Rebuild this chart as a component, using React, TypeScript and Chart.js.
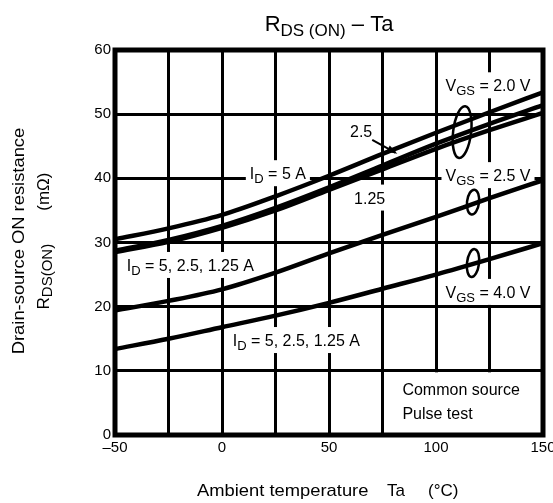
import React, { useEffect, useRef } from "react";
import { Chart, registerables } from "chart.js";

Chart.register(...registerables);

const temps = [-50, -25, 0, 25, 50, 75, 100, 125, 150];
const rVgs20Id5 = [30.5, 32.2, 34.3, 37.2, 40.4, 43.8, 47.1, 50.3, 53.4];
const rVgs20Id25 = [28.7, 30.4, 32.6, 35.4, 38.6, 42.0, 45.4, 48.5, 51.4];
const rVgs20Id125 = [28.5, 30.1, 32.3, 35.0, 38.2, 41.4, 44.6, 47.5, 50.2];
const rVgs25 = [19.4, 20.9, 22.7, 25.3, 28.3, 31.2, 34.0, 36.9, 39.7];
const rVgs40 = [13.4, 15.0, 16.8, 18.6, 20.6, 22.8, 25.0, 27.4, 29.9];

const xTicks = [-50, -25, 0, 25, 50, 75, 100, 125, 150];
const xTickLabels = ["–50", "", "0", "", "50", "", "100", "", "150"];
const yTicks = [0, 10, 20, 30, 40, 50, 60];

const FONT = '"Liberation Sans", Arial, sans-serif';

type Part = { t: string; sub?: boolean };

function richWidth(ctx: CanvasRenderingContext2D, parts: Part[], size: number, subSize: number) {
  let w = 0;
  for (const p of parts) {
    ctx.font = `${p.sub ? subSize : size}px ${FONT}`;
    w += ctx.measureText(p.t).width;
  }
  return w;
}

function drawRich(
  ctx: CanvasRenderingContext2D,
  parts: Part[],
  x: number,
  baseline: number,
  align: "left" | "center",
  size = 16,
  subSize = 13,
  subShift = 4
) {
  const w = richWidth(ctx, parts, size, subSize);
  let cx = align === "center" ? x - w / 2 : x;
  ctx.textAlign = "left";
  ctx.textBaseline = "alphabetic";
  ctx.fillStyle = "#000";
  for (const p of parts) {
    ctx.font = `${p.sub ? subSize : size}px ${FONT}`;
    ctx.fillText(p.t, cx, baseline + (p.sub ? subShift : 0));
    cx += ctx.measureText(p.t).width;
  }
  return w;
}

type Label = { parts: Part[]; x: number; y: number; align: "left" | "center"; box: boolean };

const labels: Label[] = [
  { parts: [{ t: "V" }, { t: "GS", sub: true }, { t: " = 2.0 V" }], x: 124.3, y: 54.5, align: "center", box: true },
  { parts: [{ t: "2.5" }], x: 65, y: 47.3, align: "center", box: true },
  { parts: [{ t: "I" }, { t: "D", sub: true }, { t: " = 5 A" }], x: 13.0, y: 40.8, align: "left", box: true },
  { parts: [{ t: "1.25" }], x: 69, y: 37.0, align: "center", box: true },
  { parts: [{ t: "V" }, { t: "GS", sub: true }, { t: " = 2.5 V" }], x: 124.3, y: 40.5, align: "center", box: true },
  { parts: [{ t: "I" }, { t: "D", sub: true }, { t: " = 5, 2.5, 1.25 A" }], x: -44.5, y: 26.5, align: "left", box: true },
  { parts: [{ t: "V" }, { t: "GS", sub: true }, { t: " = 4.0 V" }], x: 124.3, y: 22.3, align: "center", box: true },
  { parts: [{ t: "I" }, { t: "D", sub: true }, { t: " = 5, 2.5, 1.25 A" }], x: 5.0, y: 14.8, align: "left", box: true },
  { parts: [{ t: "Common source" }], x: 84.3, y: 7.2, align: "left", box: false },
  { parts: [{ t: "Pulse test" }], x: 84.3, y: 3.4, align: "left", box: false },
];

const loops = [
  { x: 112.2, y: 47.2, rx: 9, ry: 26 },
  { x: 117.3, y: 36.3, rx: 6, ry: 12.5 },
  { x: 117.3, y: 26.8, rx: 6, ry: 14 },
];

const annotPlugin = {
  id: "annot",
  beforeDatasetsDraw(chart: any) {
    const { ctx, scales, chartArea } = chart;
    const xs = scales.x;
    const ys = scales.y;
    ctx.save();
    ctx.fillStyle = "#fff";
    ctx.fillRect(
      xs.getPixelForValue(75) + 1.5,
      ys.getPixelForValue(10) + 1.5,
      chartArea.right - xs.getPixelForValue(75) - 1.5,
      chartArea.bottom - ys.getPixelForValue(10) - 1.5
    );
    for (const l of labels) {
      if (!l.box) continue;
      const w = richWidth(ctx, l.parts, 16, 13);
      const px = xs.getPixelForValue(l.x);
      const py = ys.getPixelForValue(l.y);
      const x0 = l.align === "center" ? px - w / 2 : px;
      ctx.fillRect(x0 - 4, py - 13, w + 8, 26);
    }
    ctx.restore();
  },
  afterDatasetsDraw(chart: any) {
    const { ctx, scales, chartArea } = chart;
    const xs = scales.x;
    const ys = scales.y;
    ctx.save();
    ctx.strokeStyle = "#000";
    ctx.lineWidth = 5;
    ctx.strokeRect(chartArea.left, chartArea.top, chartArea.right - chartArea.left, chartArea.bottom - chartArea.top);

    for (const l of labels) {
      const px = xs.getPixelForValue(l.x);
      const py = ys.getPixelForValue(l.y);
      drawRich(ctx, l.parts, px, py + 6, l.align, 16, 13, 4);
    }

    ctx.lineWidth = 2.5;
    for (const lp of loops) {
      ctx.beginPath();
      ctx.ellipse(xs.getPixelForValue(lp.x), ys.getPixelForValue(lp.y), lp.rx, lp.ry, 0.12, 0, Math.PI * 2);
      ctx.stroke();
    }

    const ax0 = xs.getPixelForValue(70.2), ay0 = ys.getPixelForValue(46.0);
    const ax1 = xs.getPixelForValue(81.0), ay1 = ys.getPixelForValue(44.0);
    ctx.lineWidth = 2;
    ctx.beginPath();
    ctx.moveTo(ax0, ay0);
    ctx.lineTo(ax1, ay1);
    ctx.stroke();
    const ang = Math.atan2(ay1 - ay0, ax1 - ax0);
    ctx.beginPath();
    ctx.moveTo(ax1 + 2, ay1 + 1);
    ctx.lineTo(ax1 - 9 * Math.cos(ang - 0.4), ay1 - 9 * Math.sin(ang - 0.4));
    ctx.lineTo(ax1 - 9 * Math.cos(ang + 0.4), ay1 - 9 * Math.sin(ang + 0.4));
    ctx.closePath();
    ctx.fillStyle = "#000";
    ctx.fill();

    // title
    drawRich(ctx, [{ t: "R" }, { t: "DS (ON)", sub: true }, { t: " – Ta" }], 329, 31, "center", 22, 17, 5);

    // x title
    ctx.fillStyle = "#000";
    ctx.font = `17px ${FONT}`;
    ctx.textBaseline = "middle";
    ctx.textAlign = "left";
    ctx.save();
    ctx.translate(197, 491);
    ctx.scale(1.08, 1);
    ctx.fillText("Ambient temperature", 0, 0);
    ctx.restore();
    ctx.fillText("Ta", 387, 491);
    ctx.fillText("(°C)", 428, 491);

    // y titles
    ctx.save();
    ctx.translate(19, 241);
    ctx.rotate(-Math.PI / 2);
    ctx.font = `17px ${FONT}`;
    ctx.textAlign = "center";
    ctx.textBaseline = "middle";
    ctx.scale(1.08, 1);
    ctx.fillText("Drain-source ON resistance", 0, 0);
    ctx.restore();

    ctx.save();
    ctx.translate(43, 241);
    ctx.rotate(-Math.PI / 2);
    drawRich(ctx, [{ t: "R" }, { t: "DS(ON)", sub: true }, { t: "       (mΩ)" }], 0, 6, "center", 17, 15, 3);
    ctx.restore();

    ctx.restore();
  },
};

export default function App() {
  const ref = useRef<HTMLCanvasElement | null>(null);
  useEffect(() => {
    if (!ref.current) return;
    const mk = (vals: number[]) => temps.map((t, i) => ({ x: t, y: vals[i] }));
    const ds = (vals: number[]) => ({
      data: mk(vals),
      borderColor: "#000",
      borderWidth: 4.5,
      pointRadius: 0,
      fill: false,
      cubicInterpolationMode: "monotone" as const,
    });
    const chart = new Chart(ref.current, {
      type: "line",
      data: {
        datasets: [ds(rVgs20Id5), ds(rVgs20Id25), ds(rVgs20Id125), ds(rVgs25), ds(rVgs40)],
      },
      options: {
        responsive: false,
        animation: false,
        devicePixelRatio: 1,
        layout: { padding: { top: 50, right: 10, left: 0, bottom: 0 } },
        plugins: { legend: { display: false }, tooltip: { enabled: false }, title: { display: false } },
        scales: {
          x: {
            type: "linear",
            min: -50,
            max: 150,
            afterBuildTicks: (s: any) => {
              s.ticks = xTicks.map((v) => ({ value: v }));
            },
            afterFit: (s: any) => {
              s.height = 68;
              s.paddingLeft = 0;
              s.paddingRight = 0;
            },
            ticks: {
              autoSkip: false,
              maxRotation: 0,
              padding: 4,
              color: "#000",
              font: { family: FONT, size: 15 },
              callback: (v: any) => xTickLabels[xTicks.indexOf(Number(v))] ?? "",
            },
            grid: { color: "#000", lineWidth: 3, drawTicks: false },
            border: { display: false },
          },
          y: {
            type: "linear",
            min: 0,
            max: 60,
            afterBuildTicks: (s: any) => {
              s.ticks = yTicks.map((v) => ({ value: v }));
            },
            afterFit: (s: any) => {
              s.width = 115;
              s.paddingTop = 0;
              s.paddingBottom = 0;
            },
            ticks: {
              padding: 4,
              color: "#000",
              font: { family: FONT, size: 15 },
            },
            grid: { color: "#000", lineWidth: 3, drawTicks: false },
            border: { display: false },
          },
        },
      },
      plugins: [annotPlugin],
    });
    return () => chart.destroy();
  }, []);
  return (
    <div style={{ position: "absolute", left: 0, top: 0, width: 553, height: 503, background: "#fff" }}>
      <canvas ref={ref} width={553} height={503} style={{ display: "block" }} />
    </div>
  );
}
